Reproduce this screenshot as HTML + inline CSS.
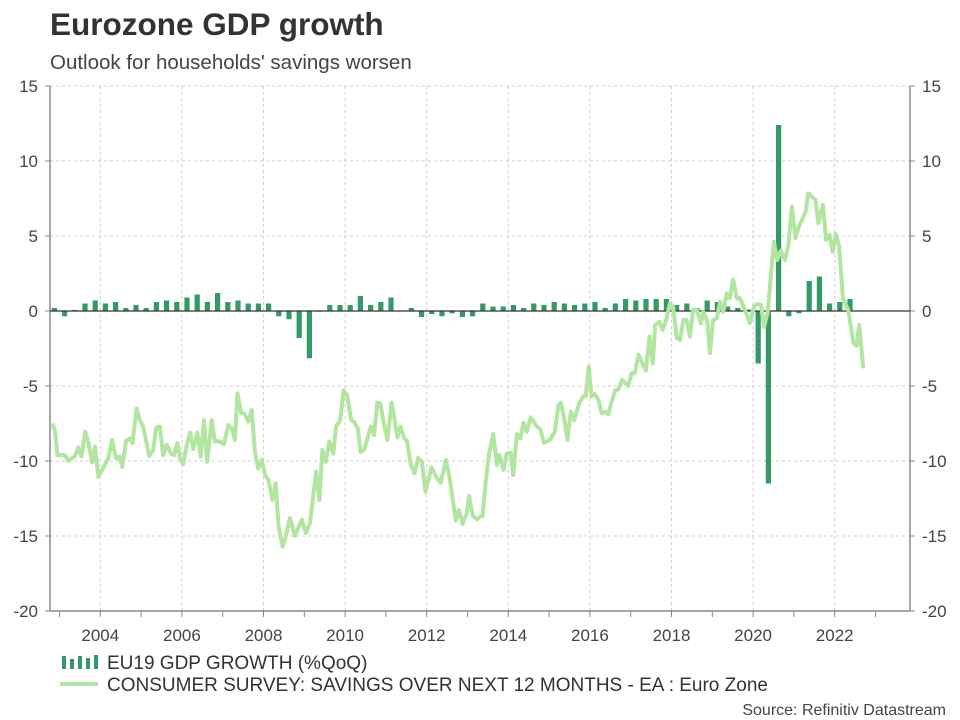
<!DOCTYPE html>
<html><head><meta charset="utf-8"><style>
body{margin:0;background:#fff;}
svg{display:block;font-family:"Liberation Sans",sans-serif;}
</style></head><body>
<svg id="chart" width="960" height="720" viewBox="0 0 960 720">
<text x="50" y="35" font-size="31.5" font-weight="bold" fill="#333">Eurozone GDP growth</text>
<text x="50" y="69" font-size="20.5" fill="#444">Outlook for households' savings worsen</text>
<g id="grid"></g><g id="axes"></g><g id="bars"></g><g id="lines"></g>
<g>
<g fill="#339966">
<rect x="62" y="656" width="4" height="13"/><rect x="70" y="659" width="4" height="10"/><rect x="78" y="656" width="4" height="13"/><rect x="86" y="658" width="4" height="11"/><rect x="94" y="655" width="4" height="14"/></g>
<text x="107" y="669" font-size="19" fill="#333">EU19 GDP GROWTH (%QoQ)</text>
<line x1="60" y1="684" x2="98" y2="684" stroke="#b2e5a0" stroke-width="4"/>
<text x="107" y="691" font-size="19" fill="#333">CONSUMER SURVEY: SAVINGS OVER NEXT 12 MONTHS - EA : Euro Zone</text>
</g>
<text x="946" y="715" font-size="16" fill="#444" text-anchor="end">Source: Refinitiv Datastream</text>
</svg>
<script>
const gdpStart = 2002.875;
const gdpValues = [0.2,-0.35,0.07,0.5,0.7,0.5,0.6,0.2,0.4,0.2,0.6,0.7,0.6,0.9,1.1,0.6,1.2,0.6,0.7,0.5,0.5,0.5,-0.35,-0.55,-1.8,-3.15,-0.05,0.4,0.4,0.4,1.0,0.4,0.6,0.9,0.0,0.2,-0.4,-0.2,-0.35,-0.15,-0.4,-0.35,
0.5,0.3,0.3,0.4,0.2,0.5,0.4,0.6,0.5,0.4,0.5,0.6,0.2,0.5,0.8,0.7,0.8,0.8,0.8,0.4,0.5,0.2,0.7,0.6,0.3,0.2,0.1,-3.5,-11.5,12.4,-0.35,-0.15,2.0,2.3,0.5,0.6,0.8];
const lineDates = [2002.83,2002.89,2002.95,2003.13,2003.22,2003.38,2003.46,2003.54,2003.63,2003.71,2003.8,2003.87,2003.95,2004.2,2004.29,2004.38,2004.47,2004.54,2004.63,2004.73,2004.79,2004.89,2004.97,2005.05,2005.2,2005.3,2005.37,2005.46,2005.54,2005.63,2005.73,2005.81,2005.89,2005.95,2006.03,2006.12,2006.2,2006.28,2006.38,2006.46,2006.54,2006.62,2006.73,2006.81,2006.89,2007.03,2007.14,2007.22,2007.3,2007.36,2007.45,2007.53,2007.63,2007.71,2007.79,2007.87,2007.96,2008.04,2008.12,2008.22,2008.3,2008.37,2008.47,2008.55,2008.65,2008.77,2008.94,2009.04,2009.14,2009.29,2009.37,2009.44,2009.53,2009.61,2009.71,2009.78,2009.88,2009.96,2010.05,2010.15,2010.22,2010.31,2010.38,2010.46,2010.54,2010.63,2010.71,2010.79,2010.86,2010.95,2011.04,2011.14,2011.2,2011.28,2011.36,2011.44,2011.52,2011.61,2011.7,2011.79,2011.88,2011.97,2012.12,2012.23,2012.34,2012.47,2012.57,2012.71,2012.79,2012.88,2012.98,2013.04,2013.13,2013.24,2013.32,2013.37,2013.45,2013.53,2013.63,2013.72,2013.78,2013.88,2013.96,2014.06,2014.12,2014.21,2014.3,2014.37,2014.45,2014.55,2014.7,2014.79,2014.87,2015.02,2015.14,2015.23,2015.29,2015.37,2015.45,2015.53,2015.61,2015.74,2015.84,2015.9,2015.97,2016.04,2016.12,2016.21,2016.29,2016.37,2016.45,2016.53,2016.62,2016.7,2016.79,2016.94,2017.02,2017.1,2017.19,2017.29,2017.37,2017.46,2017.54,2017.6,2017.7,2017.78,2017.87,2017.96,2018.04,2018.13,2018.21,2018.29,2018.37,2018.45,2018.53,2018.62,2018.72,2018.78,2018.88,2018.94,2019.02,2019.11,2019.19,2019.27,2019.35,2019.43,2019.51,2019.6,2019.68,2019.8,2019.92,2020.02,2020.1,2020.19,2020.27,2020.36,2020.44,2020.51,2020.59,2020.68,2020.78,2020.86,2020.95,2021.04,2021.12,2021.29,2021.35,2021.53,2021.6,2021.71,2021.79,2021.87,2021.95,2022.03,2022.11,2022.2,2022.33,2022.46,2022.54,2022.6,2022.7];
const lineValues = [-7.49,-8.04,-9.6,-9.6,-10.0,-9.67,-9.09,-9.7,-8.04,-8.8,-10.1,-9.04,-11.05,-9.8,-8.6,-9.8,-9.7,-10.4,-8.65,-8.5,-8.8,-6.5,-7.27,-7.7,-9.67,-9.27,-7.8,-7.7,-9.6,-8.93,-9.5,-9.6,-8.8,-9.8,-10.2,-8.93,-8.1,-9.2,-8.1,-9.7,-7.27,-10.05,-7.27,-8.7,-8.67,-8.87,-7.6,-7.8,-8.6,-5.49,-6.82,-6.82,-7.38,-6.6,-9.38,-10.5,-9.93,-10.93,-11.27,-12.6,-11.49,-14.4,-15.7,-15.0,-13.8,-15.0,-13.9,-14.8,-14.15,-10.7,-12.6,-9.27,-10.05,-8.7,-9.5,-7.7,-7.3,-5.3,-5.6,-7.27,-7.4,-7.8,-9.4,-9.27,-8.6,-7.7,-8.27,-6.1,-6.15,-7.49,-8.6,-6.1,-7.05,-8.42,-7.7,-8.42,-8.7,-10.27,-10.82,-9.8,-10.05,-12.05,-10.42,-11.05,-11.45,-9.93,-11.27,-13.98,-13.27,-14.2,-13.49,-12.33,-13.67,-13.89,-13.67,-13.67,-11.27,-9.49,-8.2,-10.27,-9.6,-10.6,-9.49,-9.45,-10.93,-8.2,-8.49,-7.45,-8.05,-7.09,-7.71,-7.89,-8.78,-8.6,-8.05,-6.27,-6.11,-7.15,-8.6,-6.71,-7.27,-6.15,-5.67,-5.67,-3.71,-5.71,-5.53,-5.93,-6.82,-6.71,-6.87,-6.05,-5.31,-5.22,-4.6,-5.0,-4.15,-4.15,-2.93,-3.49,-3.98,-1.71,-3.49,-0.93,-0.71,-1.27,-0.6,0.51,0.29,-1.82,-1.93,-0.6,-0.6,-1.71,0.07,0.07,-0.82,-0.05,-0.71,-2.82,-0.6,-0.49,0.62,-0.05,1.18,0.85,2.11,0.85,0.85,0.07,-0.82,0.29,0.47,0.4,-1.05,-0.05,2.51,4.62,3.4,4.02,3.4,4.29,6.95,4.85,5.62,6.62,7.85,7.4,5.85,7.07,4.73,5.07,3.95,5.13,4.29,0.85,0.07,-2.15,-2.33,-0.93,-3.82];
const yTicks = [15,10,5,0,-5,-10,-15,-20];
const xTickYears = [2004,2006,2008,2010,2012,2014,2016,2018,2020,2022];

const NS="http://www.w3.org/2000/svg";
const L=50,R=910,T=86,B=611;
const yMin=-20,yMax=15;
function xs(t){return 100.3+(t-2004)*40.8;}
function ys(v){return B-(v-yMin)/(yMax-yMin)*(B-T);}
function mk(tag,attrs,parent){const e=document.createElementNS(NS,tag);for(const k in attrs)e.setAttribute(k,attrs[k]);parent.appendChild(e);return e;}
const grid=document.getElementById('grid'),axes=document.getElementById('axes');
yTicks.forEach(v=>{
  if(v!==0&&v!==yMin){const g=mk('line',{x1:L,x2:R,y1:ys(v),y2:ys(v),stroke:'#cfcfcf','stroke-dasharray':'3,3'},grid);
  
  }
  const a=mk('text',{x:38,y:ys(v)+6,'font-size':17,fill:'#444','text-anchor':'end'},axes);a.textContent=v;
  
  
  const b=mk('text',{x:922,y:ys(v)+6,'font-size':17,fill:'#444'},axes);b.textContent=v;
  
  
  mk('line',{x1:L-5,x2:L,y1:ys(v),y2:ys(v),stroke:'#888'},axes);
  mk('line',{x1:R,x2:R+5,y1:ys(v),y2:ys(v),stroke:'#888'},axes);
});
xTickYears.forEach(yr=>{
  const g=mk('line',{x1:xs(yr),x2:xs(yr),y1:T,y2:B,stroke:'#cfcfcf','stroke-dasharray':'3,3'},grid);
  
  
  const t=mk('text',{x:xs(yr),y:641,'font-size':17,fill:'#444','text-anchor':'middle'},axes);t.textContent=yr;
  
  
});
for(let yr=2003;yr<=2023;yr++){mk('line',{x1:xs(yr),x2:xs(yr),y1:B,y2:B+6,stroke:'#888'},axes);}
mk('line',{x1:L,x2:L,y1:T,y2:B,stroke:'#888','stroke-width':1.5},axes);
mk('line',{x1:R,x2:R,y1:T,y2:B,stroke:'#888','stroke-width':1.5},axes);
mk('line',{x1:L,x2:R,y1:B,y2:B,stroke:'#888','stroke-width':1.5},axes);
const bars=document.getElementById('bars');
gdpValues.forEach((v,i)=>{
  const t=gdpStart+i*0.25,x=xs(t);
  const y0=ys(0),y1=ys(v);
  const r=mk('rect',{x:x-2.6,y:Math.min(y0,y1),width:5.2,height:Math.max(Math.abs(y1-y0),0.5),fill:'#339966'},bars);
  
  
});
const z=mk('line',{x1:L,x2:R,y1:ys(0),y2:ys(0),stroke:'#333','stroke-width':1.3},bars);


const lines=document.getElementById('lines');
const d=lineDates.map((t,i)=>(i?'L':'M')+xs(t).toFixed(1)+','+ys(lineValues[i]).toFixed(1)).join(' ');
const p=mk('path',{d:d,fill:'none',stroke:'#b2e5a0','stroke-width':4,'stroke-linejoin':'round'},lines);


</script>
</body></html>
